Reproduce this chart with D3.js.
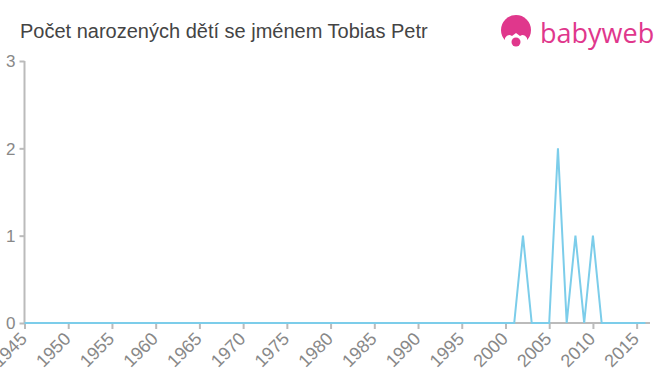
<!DOCTYPE html>
<html>
<head>
<meta charset="utf-8">
<script src="https://cdn.jsdelivr.net/npm/d3@7"></script>
<style>
  body { margin: 0; background: #fff; }
  svg { font-family: "Liberation Sans", Arial, sans-serif; }
</style>
</head>
<body>
<svg width="660" height="375"></svg>
<script>
// years shown and counts per year
const years = d3.range(1945, 2017);
const counts = years.map(y => ({2002: 1, 2006: 2, 2008: 1, 2010: 1})[y] || 0);
const yTicks = [0, 1, 2, 3];
const xTicks = d3.range(1945, 2016, 5);

const svg = d3.select("svg");

const x = d3.scaleLinear().domain([1945, 2016]).range([24.5, 645.4]);
const y = d3.scaleLinear().domain([0, 3]).range([323, 61]);

// title
svg.append("text")
  .attr("x", 20).attr("y", 38)
  .attr("font-size", 20).attr("fill", "#444")
  .text("Počet narozených dětí se jménem Tobias Petr");

// logo
const logo = svg.append("g");
logo.append("circle").attr("cx", 516).attr("cy", 30).attr("r", 15).attr("fill", "#e0378c");
logo.append("path")
  .attr("d", "M505,46 L505,38 Q508,33 512,36 L516,33 L520,36 Q524,33 527,38 L527,46 Z")
  .attr("fill", "#fff");
logo.append("circle").attr("cx", 516).attr("cy", 42).attr("r", 4.5).attr("fill", "#e0378c");
logo.append("text")
  .attr("x", 540).attr("y", 43)
  .attr("font-size", 27).attr("fill", "#e0378c")
  .attr("font-family", "'Open Sans', 'DejaVu Sans', sans-serif")
  .text("babyweb");

// y axis
const yAxis = svg.append("g")
  .attr("transform", "translate(24.5,0)")
  .call(d3.axisLeft(y).tickValues(yTicks).tickSize(5).tickFormat(d3.format("d")));
yAxis.select(".domain").attr("stroke", "#bbb").attr("stroke-width", 2).attr("d", "M0,61V323");
yAxis.selectAll(".tick line").attr("stroke", "#bbb").attr("stroke-width", 2);
yAxis.selectAll(".tick text")
  .attr("font-size", 17).attr("fill", "#888").attr("x", -9).attr("dy", "0.35em")
  .attr("font-family", "'Liberation Sans', Arial, sans-serif");

// x axis
const xAxis = svg.append("g")
  .attr("transform", "translate(0,323)")
  .call(d3.axisBottom(x).tickValues(xTicks).tickSize(6).tickFormat(d3.format("d")));
xAxis.select(".domain").attr("stroke", "#bbb").attr("stroke-width", 2).attr("d", "M24.5,0H650");
xAxis.selectAll(".tick line").attr("stroke", "#bbb").attr("stroke-width", 2);
xAxis.selectAll(".tick text")
  .attr("font-size", 18).attr("fill", "#888")
  .attr("font-family", "'Liberation Sans', Arial, sans-serif")
  .attr("text-anchor", "end")
  .attr("dy", null).attr("y", 0)
  .attr("transform", "translate(3,17) rotate(-45)");

// line
const line = d3.line().x((d, i) => x(years[i])).y(d => y(d));
svg.append("path")
  .datum(counts)
  .attr("fill", "none")
  .attr("stroke", "#7ccdea")
  .attr("stroke-width", 2)
  .attr("d", line);
</script>
</body>
</html>
